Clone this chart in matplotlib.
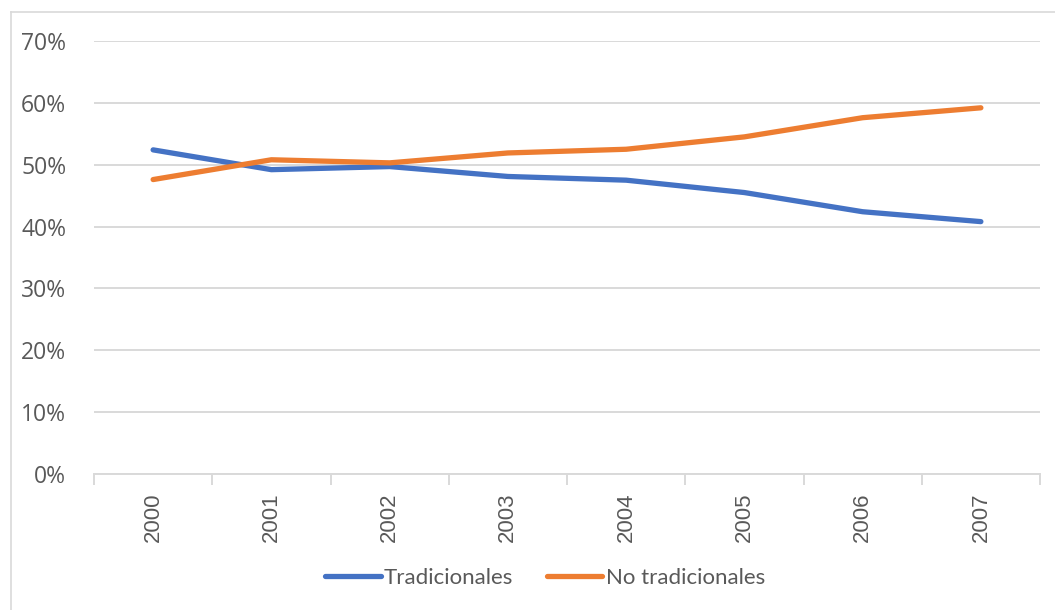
import matplotlib
matplotlib.use("Agg")
import matplotlib.pyplot as plt
from matplotlib.lines import Line2D
from matplotlib.ticker import PercentFormatter

years = ["2000", "2001", "2002", "2003", "2004", "2005", "2006", "2007"]
tradicionales = [0.524, 0.492, 0.497, 0.481, 0.475, 0.455, 0.424, 0.408]
no_tradicionales = [0.476, 0.508, 0.503, 0.519, 0.525, 0.545, 0.576, 0.592]
series_names = ["Tradicionales", "No tradicionales"]

BLUE = "#4472C4"
ORANGE = "#ED7D31"
GRID = "#D9D9D9"
TEXT = "#595959"

W, H = 1055, 610
fig = plt.figure(figsize=(W / 100, H / 100), dpi=100)
ax = fig.add_axes([94 / W, 1 - 474 / H, (1040 - 94) / W, (474 - 41) / H])

x = list(range(len(years)))
ax.plot(x, tradicionales, color=BLUE, lw=3.8, solid_capstyle="round",
        solid_joinstyle="round", label=series_names[0], zorder=3)
ax.plot(x, no_tradicionales, color=ORANGE, lw=3.8, solid_capstyle="round",
        solid_joinstyle="round", label=series_names[1], zorder=3)

ax.set_xlim(-0.5, len(years) - 0.5)
ax.set_ylim(0, 0.7)
ax.set_yticks([i / 10 for i in range(8)])
ax.yaxis.set_major_formatter(PercentFormatter(1.0, decimals=0))
ax.grid(axis="y", color=GRID, lw=1.4, zorder=0)
ax.set_axisbelow(True)

for s in ["top", "right", "left"]:
    ax.spines[s].set_visible(False)
ax.spines["bottom"].set_color(GRID)
ax.spines["bottom"].set_linewidth(1.4)

# category labels centred between boundary tick marks
ax.set_xticks(x)
ax.set_xticklabels(years, rotation=90, fontsize=16, color=TEXT,
                   fontfamily="Liberation Sans")
ax.tick_params(axis="x", length=0, pad=13)
ax.set_xticks([i - 0.5 for i in range(len(years) + 1)], minor=True)
ax.tick_params(axis="x", which="minor", length=8, width=1.4, color=GRID)
ax.tick_params(axis="y", length=0, pad=20, labelsize=16.5, labelcolor=TEXT)
for lab in ax.get_yticklabels():
    lab.set_fontfamily("Open Sans")

leg = fig.legend(loc="center", bbox_to_anchor=(545 / W, 1 - 578 / H), ncol=2,
                 frameon=False, handlelength=2.5, handletextpad=0.15,
                 columnspacing=1.5, prop={"family": "Lato", "size": 16})
for t in leg.get_texts():
    t.set_color(TEXT)
for h in leg.get_lines():
    h.set_linewidth(3.8)
    h.set_solid_capstyle("round")

# chart frame edges
fig.add_artist(Line2D([11 / W, 11 / W], [0, 1 - 12 / H], transform=fig.transFigure,
                      color=GRID, lw=1.2))
fig.add_artist(Line2D([11 / W, 1], [1 - 12 / H, 1 - 12 / H], transform=fig.transFigure,
                      color=GRID, lw=1.2))

fig.savefig("out.png", dpi=100)
